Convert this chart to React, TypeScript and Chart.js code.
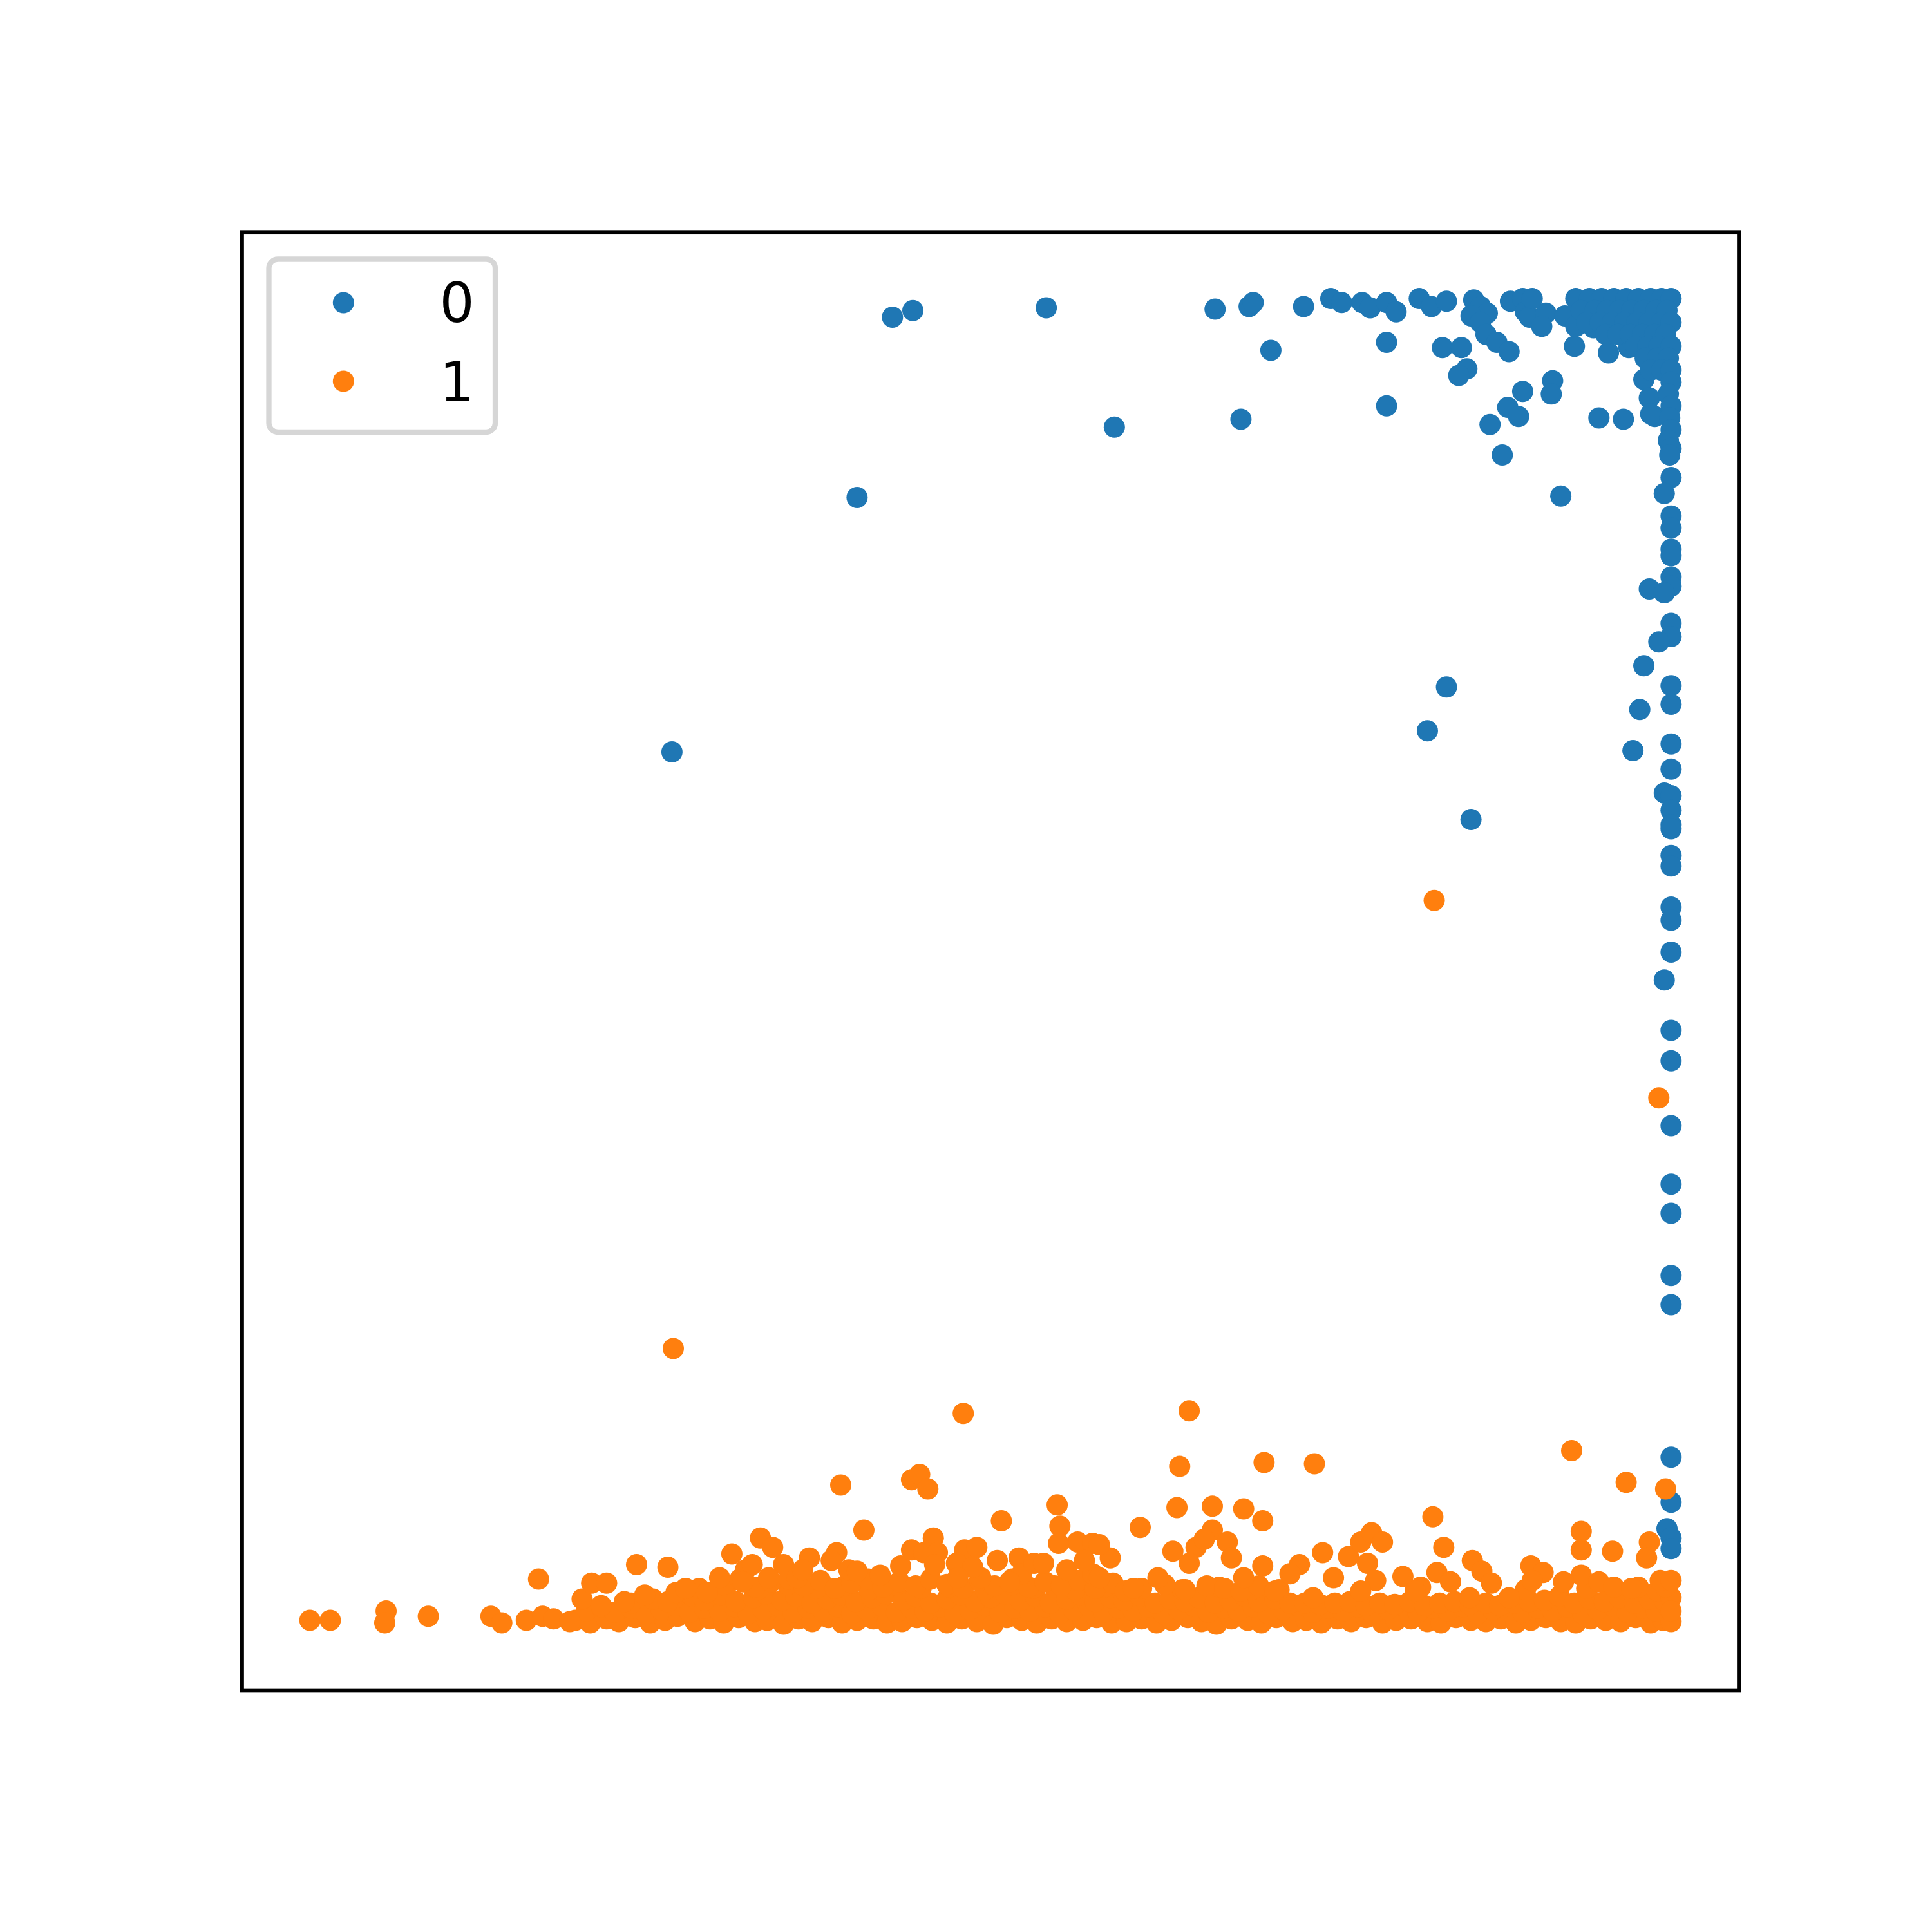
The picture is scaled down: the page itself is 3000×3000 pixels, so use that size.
import React, { useEffect, useRef } from "react";
import { Chart, registerables } from "chart.js";

Chart.register(...registerables);

type P = [number, number];

const SERIES_LABELS = ["0", "1"];
const SERIES_COLORS = ["#1f77b4", "#ff7f0e"];

// ---- class 0 (blue) ----
const blueTopRow: P[] = [
  [0.428, 0.986], [0.443, 0.991], [0.541, 0.993], [0.665, 0.992], [0.690, 0.994], [0.693, 0.997],
  [0.730, 0.994], [0.750, 1.000], [0.758, 0.997], [0.773, 0.997], [0.779, 0.993], [0.791, 0.997],
  [0.798, 0.990], [0.815, 1.000], [0.824, 0.994], [0.835, 0.998], [0.855, 0.999], [0.860, 0.994],
  [0.865, 0.989], [0.853, 0.987], [0.860, 0.982], [0.864, 0.973], [0.872, 0.967], [0.881, 0.960],
  [0.882, 0.998], [0.891, 1.000], [0.893, 0.990], [0.896, 0.986], [0.908, 0.989], [0.905, 0.979],
  [0.922, 0.987], [0.898, 1.000],
];

const blueScattered: P[] = [
  [0.706, 0.961], [0.684, 0.909], [0.791, 0.967], [0.791, 0.919], [0.832, 0.963], [0.846, 0.963],
  [0.850, 0.947], [0.844, 0.942], [0.867, 0.905], [0.880, 0.918], [0.888, 0.911], [0.891, 0.930],
  [0.913, 0.938], [0.912, 0.928], [0.876, 0.882], [0.919, 0.851], [0.929, 0.964], [0.930, 0.979],
  [0.943, 0.978], [0.947, 0.910], [0.965, 0.909], [0.954, 0.959], [0.969, 0.963], [0.980, 0.967],
  [0.980, 0.939], [0.984, 0.925], [0.988, 0.911], [0.985, 0.913], [0.591, 0.903], [0.402, 0.850],
  [0.266, 0.658], [0.821, 0.674], [0.835, 0.707], [0.853, 0.607],
];

const blueCorner: P[] = [
  [0.930, 1.000], [0.940, 1.000], [0.949, 1.000], [0.958, 1.000], [0.967, 1.000], [0.976, 1.000],
  [0.985, 1.000], [0.993, 1.000], [1.000, 1.000],
  [0.934, 0.991], [0.944, 0.991], [0.953, 0.991], [0.962, 0.991], [0.971, 0.991], [0.980, 0.991],
  [0.989, 0.991], [0.997, 0.991],
  [0.938, 0.982], [0.948, 0.982], [0.957, 0.982], [0.966, 0.982], [0.975, 0.982], [0.984, 0.982],
  [0.993, 0.982], [1.000, 0.982],
  [0.952, 0.973], [0.961, 0.973], [0.970, 0.973], [0.979, 0.973], [0.988, 0.973], [0.996, 0.973],
  [0.974, 0.964], [0.983, 0.964], [0.991, 0.964], [1.000, 0.964],
  [0.981, 0.955], [0.990, 0.955], [0.998, 0.955],
  [0.985, 0.946], [0.993, 0.946], [1.000, 0.946],
];

const blueColumn: P[] = [
  [1.000, 0.937], [0.998, 0.928], [1.000, 0.919], [0.999, 0.910], [1.000, 0.901], [0.998, 0.893],
  [1.000, 0.887], [0.999, 0.882], [1.000, 0.865], [0.995, 0.853], [1.000, 0.836], [1.000, 0.827],
  [1.000, 0.811], [1.000, 0.806], [1.000, 0.790], [1.000, 0.783], [0.984, 0.781], [0.995, 0.778],
  [1.000, 0.755], [1.000, 0.745], [0.991, 0.741], [0.980, 0.723], [1.000, 0.708], [1.000, 0.694],
  [0.977, 0.690], [0.972, 0.659], [1.000, 0.664], [1.000, 0.645], [0.995, 0.627], [1.000, 0.625],
  [1.000, 0.614], [1.000, 0.603], [1.000, 0.600], [1.000, 0.580], [1.000, 0.572], [1.000, 0.541],
  [1.000, 0.531], [1.000, 0.507], [0.995, 0.486], [1.000, 0.448], [1.000, 0.425], [1.000, 0.376],
  [1.000, 0.332], [1.000, 0.310], [1.000, 0.263], [1.000, 0.241], [1.000, 0.126], [1.000, 0.092],
  [0.997, 0.072], [1.000, 0.065], [1.000, 0.057],
];

// ---- class 1 (orange) ----
const orangeOutliers: P[] = [
  [0.826, 0.546], [0.991, 0.397], [0.267, 0.208], [0.480, 0.159], [0.646, 0.161], [0.927, 0.131],
  [0.967, 0.107], [0.996, 0.102], [0.701, 0.122], [0.738, 0.121], [0.639, 0.119], [0.390, 0.105],
  [0.442, 0.109], [0.448, 0.113], [0.454, 0.102], [0.549, 0.090], [0.407, 0.071], [0.508, 0.078],
  [0.637, 0.088], [0.663, 0.089], [0.686, 0.087], [0.700, 0.078], [0.610, 0.073], [0.825, 0.081],
  [0.934, 0.070], [0.934, 0.056], [0.957, 0.055], [0.984, 0.062], [0.982, 0.050], [0.992, 0.033],
  [1.000, 0.033], [0.168, 0.034], [0.207, 0.031], [0.218, 0.031], [0.240, 0.045], [0.263, 0.043],
];

const orangeLeftTail: P[] = [
  [0.000, 0.003], [0.015, 0.003], [0.056, 0.010], [0.055, 0.001], [0.087, 0.006], [0.133, 0.006],
  [0.141, 0.001], [0.159, 0.003], [0.171, 0.006], [0.179, 0.004], [0.191, 0.002], [0.200, 0.019],
  [0.214, 0.014], [0.231, 0.017], [0.246, 0.022], [0.269, 0.024], [0.276, 0.027],
];

const orangeBumps: P[] = [
  [0.292, 0.024], [0.301, 0.035], [0.310, 0.053], [0.320, 0.041], [0.325, 0.045], [0.331, 0.065],
  [0.340, 0.058], [0.348, 0.045], [0.337, 0.035], [0.318, 0.032], [0.358, 0.035], [0.367, 0.050],
  [0.362, 0.041], [0.387, 0.054], [0.383, 0.048], [0.396, 0.041], [0.402, 0.040], [0.419, 0.037],
  [0.434, 0.044], [0.442, 0.056], [0.451, 0.054], [0.458, 0.065], [0.461, 0.054], [0.459, 0.045],
  [0.481, 0.056], [0.490, 0.058], [0.475, 0.046], [0.493, 0.035], [0.487, 0.043], [0.505, 0.048],
  [0.521, 0.050], [0.523, 0.038], [0.532, 0.046], [0.539, 0.046], [0.556, 0.041], [0.564, 0.062],
  [0.575, 0.061], [0.588, 0.050], [0.575, 0.038], [0.569, 0.048], [0.599, 0.025], [0.514, 0.032],
  [0.476, 0.035], [0.550, 0.061], [0.551, 0.074], [0.580, 0.060], [0.580, 0.035], [0.634, 0.055],
  [0.651, 0.058], [0.663, 0.071], [0.674, 0.062], [0.677, 0.050], [0.700, 0.044], [0.727, 0.045],
  [0.744, 0.054], [0.646, 0.046], [0.657, 0.064], [0.623, 0.035], [0.605, 0.027], [0.720, 0.038],
  [0.686, 0.035], [0.752, 0.035], [0.763, 0.051], [0.772, 0.062], [0.780, 0.069], [0.788, 0.062],
  [0.777, 0.046], [0.783, 0.033], [0.772, 0.025], [0.803, 0.036], [0.816, 0.028], [0.833, 0.058],
  [0.828, 0.039], [0.838, 0.032], [0.854, 0.048], [0.861, 0.040], [0.868, 0.031], [0.897, 0.044],
  [0.906, 0.039], [0.898, 0.033], [0.934, 0.037], [0.921, 0.032], [0.947, 0.032], [0.958, 0.028],
  [0.971, 0.027], [0.990, 0.025], [0.881, 0.020], [0.852, 0.020], [0.812, 0.025], [0.737, 0.020],
  [0.709, 0.025], [1.000, 0.020], [1.000, 0.010], [0.996, 0.028],
];

const orangeBandLow: P[] = [
  [0.195, 0.003], [0.206, 0.001], [0.218, 0.004], [0.227, 0.002], [0.239, 0.005], [0.250, 0.001],
  [0.261, 0.003], [0.270, 0.006], [0.283, 0.002], [0.294, 0.004], [0.304, 0.001], [0.315, 0.005],
  [0.327, 0.002], [0.336, 0.003], [0.348, 0.000], [0.359, 0.004], [0.369, 0.002], [0.381, 0.005],
  [0.391, 0.001], [0.402, 0.003], [0.414, 0.004], [0.424, 0.001], [0.435, 0.002], [0.446, 0.005],
  [0.457, 0.003], [0.468, 0.001], [0.479, 0.004], [0.490, 0.002], [0.502, 0.000], [0.512, 0.005],
  [0.523, 0.003], [0.534, 0.001], [0.545, 0.004], [0.556, 0.002], [0.568, 0.003], [0.578, 0.005],
  [0.589, 0.001], [0.600, 0.002], [0.611, 0.004], [0.622, 0.001], [0.633, 0.003], [0.645, 0.005],
  [0.655, 0.002], [0.666, 0.000], [0.677, 0.004], [0.689, 0.003], [0.699, 0.001], [0.710, 0.005],
  [0.722, 0.002], [0.732, 0.003], [0.743, 0.001], [0.755, 0.004], [0.765, 0.002], [0.776, 0.005],
  [0.788, 0.001], [0.798, 0.003], [0.809, 0.004], [0.821, 0.002], [0.831, 0.001], [0.842, 0.005],
  [0.853, 0.003], [0.864, 0.002], [0.875, 0.004], [0.886, 0.001], [0.897, 0.003], [0.908, 0.005],
  [0.919, 0.002], [0.930, 0.001], [0.941, 0.004], [0.952, 0.003], [0.963, 0.002], [0.974, 0.005],
  [0.985, 0.001], [0.994, 0.003], [1.000, 0.002],
];

const orangeBandMid: P[] = [
  [0.203, 0.010], [0.214, 0.013], [0.224, 0.009], [0.236, 0.012], [0.247, 0.008], [0.258, 0.011],
  [0.268, 0.014], [0.279, 0.009], [0.290, 0.012], [0.301, 0.010], [0.312, 0.013], [0.322, 0.008],
  [0.333, 0.011], [0.344, 0.014], [0.355, 0.009], [0.366, 0.012], [0.377, 0.010], [0.388, 0.013],
  [0.398, 0.008], [0.409, 0.011], [0.420, 0.014], [0.431, 0.009], [0.442, 0.012], [0.452, 0.010],
  [0.463, 0.013], [0.474, 0.008], [0.485, 0.011], [0.496, 0.014], [0.507, 0.009], [0.518, 0.012],
  [0.529, 0.010], [0.540, 0.013], [0.551, 0.008], [0.561, 0.011], [0.572, 0.014], [0.583, 0.009],
  [0.594, 0.012], [0.605, 0.010], [0.616, 0.013], [0.627, 0.008], [0.638, 0.011], [0.649, 0.014],
  [0.660, 0.009], [0.671, 0.012], [0.682, 0.010], [0.693, 0.013], [0.704, 0.008], [0.715, 0.011],
  [0.726, 0.014], [0.737, 0.009], [0.748, 0.012], [0.759, 0.010], [0.770, 0.013], [0.781, 0.008],
  [0.792, 0.011], [0.803, 0.014], [0.814, 0.009], [0.825, 0.012], [0.836, 0.010], [0.847, 0.013],
  [0.858, 0.008], [0.869, 0.011], [0.880, 0.014], [0.891, 0.009], [0.902, 0.012], [0.913, 0.010],
  [0.924, 0.013], [0.935, 0.008], [0.946, 0.011], [0.957, 0.014], [0.968, 0.009], [0.979, 0.012],
  [0.989, 0.010], [0.998, 0.013],
];

const orangeBandHigh: P[] = [
  [0.236, 0.016], [0.252, 0.019], [0.263, 0.017], [0.281, 0.021], [0.290, 0.018], [0.302, 0.022],
  [0.313, 0.017], [0.326, 0.020], [0.335, 0.023], [0.347, 0.018], [0.357, 0.021], [0.369, 0.016],
  [0.380, 0.019], [0.390, 0.022], [0.401, 0.017], [0.413, 0.020], [0.423, 0.023], [0.436, 0.018],
  [0.445, 0.021], [0.456, 0.016], [0.468, 0.019], [0.478, 0.022], [0.489, 0.017], [0.500, 0.020],
  [0.511, 0.023], [0.522, 0.018], [0.533, 0.021], [0.544, 0.016], [0.556, 0.019], [0.566, 0.022],
  [0.577, 0.017], [0.588, 0.020], [0.598, 0.018], [0.610, 0.021], [0.621, 0.016], [0.632, 0.019],
  [0.643, 0.017], [0.653, 0.020], [0.665, 0.016], [0.676, 0.018], [0.687, 0.021], [0.697, 0.017],
  [0.709, 0.019], [0.720, 0.016], [0.731, 0.016], [0.742, 0.015], [0.753, 0.016], [0.764, 0.017],
  [0.776, 0.014], [0.786, 0.016], [0.797, 0.015], [0.808, 0.017], [0.819, 0.014], [0.830, 0.016],
  [0.841, 0.017], [0.852, 0.015], [0.864, 0.016], [0.874, 0.014], [0.885, 0.016], [0.896, 0.017],
  [0.907, 0.018], [0.918, 0.021], [0.929, 0.016], [0.940, 0.019], [0.951, 0.017], [0.962, 0.020],
  [0.973, 0.016], [0.984, 0.019], [0.995, 0.018],
];

const orangeBandTop: P[] = [
  [0.286, 0.027], [0.306, 0.029], [0.329, 0.026], [0.351, 0.030], [0.372, 0.027], [0.393, 0.029],
  [0.411, 0.026], [0.431, 0.030], [0.449, 0.027], [0.470, 0.028], [0.496, 0.026], [0.516, 0.030],
  [0.531, 0.027], [0.547, 0.029], [0.562, 0.026], [0.584, 0.028], [0.641, 0.026], [0.668, 0.028],
  [0.692, 0.026], [0.893, 0.026], [0.938, 0.027], [0.976, 0.028],
];

const orangeBandCrest: P[] = [
  [0.304, 0.030], [0.316, 0.034], [0.327, 0.028], [0.339, 0.032], [0.352, 0.034], [0.363, 0.029],
  [0.375, 0.033], [0.386, 0.027], [0.398, 0.031], [0.410, 0.034], [0.421, 0.028], [0.433, 0.032],
  [0.445, 0.029], [0.456, 0.034], [0.468, 0.030], [0.480, 0.027], [0.492, 0.033], [0.503, 0.029],
  [0.516, 0.034], [0.528, 0.028], [0.540, 0.032], [0.552, 0.029], [0.565, 0.033], [0.577, 0.027],
  [0.590, 0.031], [0.611, 0.027], [0.628, 0.030], [0.643, 0.026], [0.659, 0.029], [0.672, 0.027],
  [0.684, 0.025], [0.697, 0.029], [0.712, 0.026],
];

const AXIS_MIN = -0.05;
const AXIS_MAX = 1.05;

const blueAll: P[] = [...blueTopRow, ...blueScattered, ...blueCorner, ...blueColumn];
const orangeAll: P[] = [
  ...orangeBandLow, ...orangeBandMid, ...orangeBandHigh, ...orangeBandTop, ...orangeBandCrest,
  ...orangeBumps, ...orangeLeftTail, ...orangeOutliers,
];

const toXY = (pts: P[]) => pts.map(([x, y]) => ({ x, y }));

const framePlugin = {
  id: "frameAndLegend",
  afterDatasetsDraw(chart: any) {
    const { ctx, chartArea: a } = chart;
    ctx.save();
    // axes frame
    ctx.strokeStyle = "#000000";
    ctx.lineWidth = 6.7;
    ctx.lineJoin = "miter";
    ctx.strokeRect(a.left, a.top, a.right - a.left, a.bottom - a.top);

    // legend box (upper left)
    const bx = a.left + 42;
    const by = a.top + 41.8;
    const bw = 351.5;
    const bh = 268.5;
    const r = 14;
    ctx.beginPath();
    ctx.moveTo(bx + r, by);
    ctx.lineTo(bx + bw - r, by);
    ctx.arcTo(bx + bw, by, bx + bw, by + r, r);
    ctx.lineTo(bx + bw, by + bh - r);
    ctx.arcTo(bx + bw, by + bh, bx + bw - r, by + bh, r);
    ctx.lineTo(bx + r, by + bh);
    ctx.arcTo(bx, by + bh, bx, by + bh - r, r);
    ctx.lineTo(bx, by + r);
    ctx.arcTo(bx, by, bx + r, by, r);
    ctx.closePath();
    ctx.fillStyle = "rgba(255,255,255,0.8)";
    ctx.fill();
    ctx.strokeStyle = "#d6d6d6";
    ctx.lineWidth = 8.3;
    ctx.stroke();

    const markerY = [a.top + 109.3, a.top + 231.3];
    const textY = [a.top + 138.8, a.top + 261.8];
    chart.data.datasets.forEach((ds: any, i: number) => {
      ctx.beginPath();
      ctx.arc(a.left + 157.8, markerY[i], 16.5, 0, Math.PI * 2);
      ctx.fillStyle = ds.backgroundColor;
      ctx.fill();
      ctx.fillStyle = "#000000";
      ctx.font = '85px "DejaVu Sans"';
      ctx.textAlign = "left";
      ctx.textBaseline = "alphabetic";
      ctx.fillText(ds.label, a.left + 307.1, textY[i]);
    });
    ctx.restore();
  },
};

export default function App() {
  const canvasRef = useRef<HTMLCanvasElement | null>(null);

  useEffect(() => {
    const canvas = canvasRef.current;
    if (!canvas) return;
    const chart = new Chart(canvas, {
      type: "scatter",
      data: {
        datasets: [
          {
            label: SERIES_LABELS[0],
            data: toXY(blueAll),
            backgroundColor: SERIES_COLORS[0],
            borderWidth: 0,
            pointRadius: 16.5,
            pointHoverRadius: 16.5,
            order: 1,
          },
          {
            label: SERIES_LABELS[1],
            data: toXY(orangeAll),
            backgroundColor: SERIES_COLORS[1],
            borderWidth: 0,
            pointRadius: 16.5,
            pointHoverRadius: 16.5,
            order: 0,
          },
        ],
      },
      options: {
        animation: false,
        responsive: false,
        devicePixelRatio: 1,
        events: [],
        layout: { padding: { left: 375.5, top: 360.7, right: 299.5, bottom: 375 } },
        scales: {
          x: { type: "linear", min: AXIS_MIN, max: AXIS_MAX, display: false },
          y: { type: "linear", min: AXIS_MIN, max: AXIS_MAX, display: false },
        },
        plugins: {
          legend: { display: false },
          tooltip: { enabled: false },
        },
      },
      plugins: [framePlugin],
    } as any);
    return () => chart.destroy();
  }, []);

  return (
    <div style={{ position: "absolute", left: 0, top: 0, width: 3000, height: 3000, background: "#ffffff" }}>
      <canvas ref={canvasRef} width={3000} height={3000} style={{ width: 3000, height: 3000, display: "block" }} />
    </div>
  );
}
